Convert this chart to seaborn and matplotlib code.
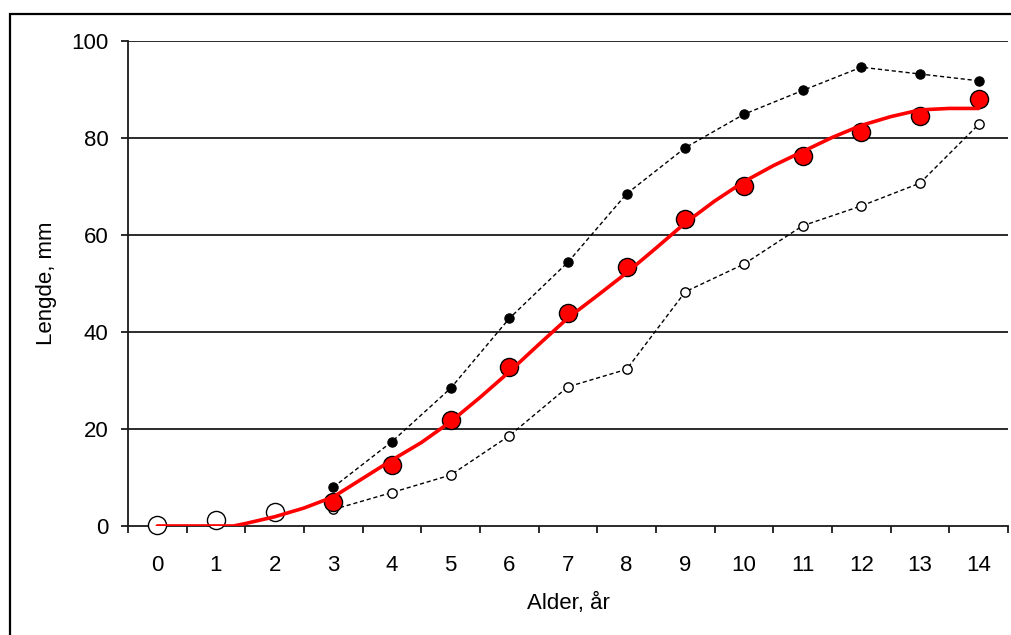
import numpy as np
import pandas as pd
import matplotlib
matplotlib.use("Agg")
import matplotlib.pyplot as plt
import seaborn as sns
from matplotlib.patches import Rectangle

# Data
ages = [3, 4, 5, 6, 7, 8, 9, 10, 11, 12, 13, 14]
upper = [8.0, 17.4, 28.4, 42.8, 54.4, 68.5, 78.0, 84.9, 89.8, 94.6, 93.2, 91.8]
lower = [3.4, 6.9, 10.5, 18.6, 28.7, 32.3, 48.3, 54.0, 61.9, 66.0, 70.7, 82.8]
mean_len = [5.0, 12.6, 21.9, 32.8, 44.0, 53.5, 63.2, 70.1, 76.3, 81.3, 84.5, 88.0]

young_ages = [0, 1, 2]
young_len = [0.2, 1.2, 2.9]

curve_x = [0, 0.5, 1, 1.3, 1.5, 2, 2.5, 3, 3.5, 4, 4.5, 5, 5.5, 6, 6.5, 7, 7.5,
           8, 8.5, 9, 9.5, 10, 10.5, 11, 11.5, 12, 12.5, 13, 13.5, 14]
curve_y = [0, 0, 0, 0, 0.5, 1.9, 3.7, 6.0, 9.8, 13.6, 17.2, 21.5, 26.5, 31.8,
           37.4, 42.9, 47.5, 52.2, 57.3, 62.5, 67.0, 71.0, 74.3, 77.2, 80.1,
           82.6, 84.4, 85.8, 86.1, 86.1]

sns.set_theme(style="white")
plt.rcParams['font.family'] = ['Liberation Sans', 'DejaVu Sans']

fig = plt.figure(figsize=(10.11, 6.35), dpi=100)
ax = fig.add_axes([0.1266, 0.1717, 0.8704, 0.7637])

# horizontal grid
for yv in [20, 40, 60, 80, 100]:
    ax.axhline(yv, color='#1a1a1a', lw=1.3, zorder=0)

sns.lineplot(x=ages, y=upper, ax=ax, color='black', lw=1,
             linestyle=(0, (3, 2)), zorder=2)
sns.lineplot(x=ages, y=lower, ax=ax, color='black', lw=1,
             linestyle=(0, (3, 2)), zorder=2)

sns.scatterplot(x=ages, y=upper, ax=ax, color='black', s=45,
                edgecolor='black', linewidth=0.8, zorder=4)
sns.scatterplot(x=ages, y=lower, ax=ax, color='white', s=45,
                edgecolor='black', linewidth=1.0, zorder=4)
sns.scatterplot(x=ages, y=mean_len, ax=ax, color='#ff0000', s=170,
                edgecolor='black', linewidth=1.0, zorder=5, clip_on=False)
sns.scatterplot(x=young_ages, y=young_len, ax=ax, color='white', s=170,
                edgecolor='black', linewidth=1.0, zorder=5, clip_on=False)
sns.lineplot(x=curve_x, y=curve_y, ax=ax, color='#ff0000', lw=2.6, zorder=6)

ax.set_xlim(-0.5, 14.5)
ax.set_ylim(0, 100)
ax.set_xticks(range(0, 15))
ax.set_xticks(np.arange(-0.5, 15, 1), minor=True)
ax.set_yticks([0, 20, 40, 60, 80, 100])

for s in ['top', 'right']:
    ax.spines[s].set_visible(False)
ax.spines['left'].set_color('#1a1a1a')
ax.spines['bottom'].set_color('#1a1a1a')
ax.spines['left'].set_linewidth(1.3)
ax.spines['bottom'].set_linewidth(1.3)

ax.tick_params(axis='x', which='major', length=0, pad=21, labelsize=16, colors='black')
ax.tick_params(axis='x', which='minor', bottom=True, length=5, width=1.3, color='#1a1a1a')
ax.tick_params(axis='y', which='major', left=True, length=5, width=1.3,
               color='#1a1a1a', pad=9, labelsize=16, labelcolor='black')

ax.set_xlabel('Alder, år', fontsize=16, color='black', labelpad=12)
ax.set_ylabel('Lengde, mm', fontsize=16, color='black', labelpad=10)

# outer frame (cut by image edges as in the original)
fig.patches.append(Rectangle((10 / 1011, -0.05), 1.1, 1 - 14 / 635 + 0.05,
                             transform=fig.transFigure, fill=False,
                             edgecolor='black', lw=1.6))

fig.savefig('out.png', dpi=100)
